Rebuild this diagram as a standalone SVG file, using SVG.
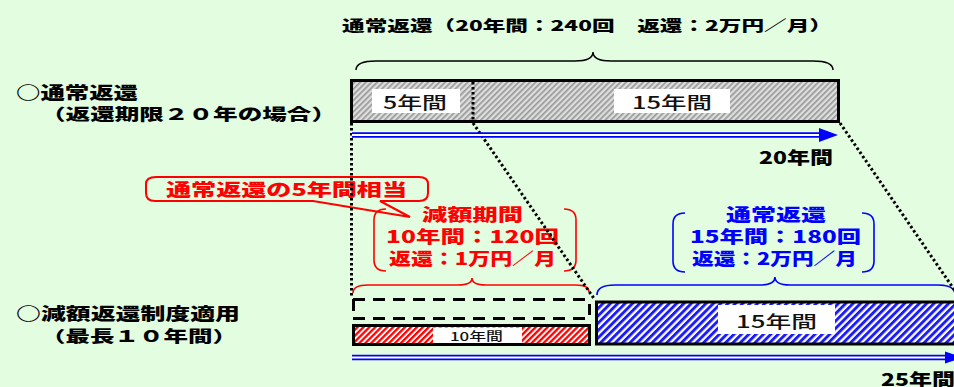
<svg xmlns="http://www.w3.org/2000/svg" width="954" height="387" viewBox="0 0 954 387">
<defs>
<style>
text{font-family:"Noto Sans CJK JP","Noto Sans",sans-serif;}
.b{font-weight:900;}
.k{fill:#000;}
.r{fill:#ff0000;}
.bl{fill:#0000ff;}
.reg{font-weight:500;fill:#111;}
.dot{stroke:#000;stroke-width:3;stroke-dasharray:2.5 2.5;fill:none;}
.dash{stroke:#000;stroke-width:3;stroke-dasharray:12 8;fill:none;}
.bar{stroke:#000;stroke-width:3;}
.lbl{fill:#fff;}
</style>
<pattern id="hg" patternUnits="userSpaceOnUse" width="4" height="4" patternTransform="rotate(45)">
<rect width="4" height="4" fill="#dedede"/><rect width="1.7" height="4" fill="#999"/>
</pattern>
<pattern id="hr" patternUnits="userSpaceOnUse" width="4.2" height="4.2" patternTransform="rotate(45)">
<rect width="4.2" height="4.2" fill="#fff"/><rect width="2.3" height="4.2" fill="#ff0000"/>
</pattern>
<pattern id="hb" patternUnits="userSpaceOnUse" width="5.2" height="5.2" patternTransform="rotate(45)">
<rect width="5.2" height="5.2" fill="#fff"/><rect width="2.9" height="5.2" fill="#1a1aff"/>
</pattern>
</defs>
<rect width="954" height="387" fill="#e3fde1"/>

<g id="title">
<text class="b k" x="342" y="31" font-size="14.5" textLength="490" lengthAdjust="spacingAndGlyphs">通常返還（20年間：240回　返還：2万円／月）</text>
<path d="M356,70 C356,64 362,61 376,61 L575,61 C588,61 593,58 593,52 C593,58 598,61 611,61 L813,61 C827,61 833,64 833,70" fill="none" stroke="#000" stroke-width="1.5"/>
</g>

<g id="label-normal">
<text class="b k" x="16" y="99" font-size="17" textLength="122" lengthAdjust="spacingAndGlyphs">○通常返還</text>
<text class="b k" x="41" y="120" font-size="16" textLength="295" lengthAdjust="spacingAndGlyphs">（返還期限２０年の場合）</text>
</g>

<g id="label-reduced">
<text class="b k" x="16" y="320" font-size="16.5" textLength="224" lengthAdjust="spacingAndGlyphs">○減額返還制度適用</text>
<text class="b k" x="41" y="342" font-size="15.5" textLength="196" lengthAdjust="spacingAndGlyphs">（最長１０年間）</text>
</g>

<g id="bar-normal">
<rect class="bar" x="351.5" y="80.5" width="487" height="41" fill="url(#hg)"/>
<rect class="lbl" x="372" y="89" width="88" height="24"/>
<text class="reg" x="383" y="109" font-size="17" textLength="64" lengthAdjust="spacingAndGlyphs">5年間</text>
<rect class="lbl" x="614" y="89" width="116" height="24"/>
<text class="reg" x="632" y="109" font-size="17" textLength="80" lengthAdjust="spacingAndGlyphs">15年間</text>
<line class="dot" x1="473" y1="82" x2="473" y2="121"/>
</g>

<g id="label-20y">
<text class="b k" x="759" y="164" font-size="17" textLength="74" lengthAdjust="spacingAndGlyphs">20年間</text>
</g>

<g id="callout">
<path d="M156,177 L419,177 Q428,177 428,184 L428,193 Q428,201 419,201 L380,201 L410,217 L313,201 L155,201 Q146,201 146,193 L146,184 Q146,177 156,177 Z" fill="#e3fde1" stroke="#ff0000" stroke-width="2"/>
<text class="b r" x="166" y="196" font-size="17" textLength="241" lengthAdjust="spacingAndGlyphs">通常返還の5年間相当</text>
</g>

<g id="reduced-info">
<path d="M386,209 Q374,209 374,220 L374,260 Q374,271 386,271" fill="none" stroke="#ff0000" stroke-width="1.6"/>
<path d="M564,209 Q576,209 576,220 L576,260 Q576,271 564,271" fill="none" stroke="#ff0000" stroke-width="1.6"/>
<text class="b r" x="422" y="221" font-size="16.5" textLength="101" lengthAdjust="spacingAndGlyphs">減額期間</text>
<text class="b r" x="386" y="243" font-size="16.5" textLength="173" lengthAdjust="spacingAndGlyphs">10年間：120回</text>
<text class="b r" x="389" y="265" font-size="16.5" textLength="167" lengthAdjust="spacingAndGlyphs">返還：1万円／月</text>
<path d="M353,293 C353,288 358,285 368,285 L458,285 C468,285 472,283 472,278 C472,283 476,285 486,285 L576,285 C585,285 589,287 589,292" fill="none" stroke="#ff0000" stroke-width="1.6"/>
</g>

<g id="normal-info">
<path d="M685,213 Q673,213 673,224 L673,261 Q673,272 685,272" fill="none" stroke="#0000ff" stroke-width="1.6"/>
<path d="M862,213 Q874,213 874,224 L874,261 Q874,272 862,272" fill="none" stroke="#0000ff" stroke-width="1.6"/>
<text class="b bl" x="726" y="221" font-size="16.5" textLength="100" lengthAdjust="spacingAndGlyphs">通常返還</text>
<text class="b bl" x="690" y="243" font-size="16.5" textLength="171" lengthAdjust="spacingAndGlyphs">15年間：180回</text>
<text class="b bl" x="692" y="265" font-size="16.5" textLength="165" lengthAdjust="spacingAndGlyphs">返還：2万円／月</text>
<path d="M597,295 C597,289 603,285 615,285 L760,285 C771,285 775,282 775,277 C775,282 779,285 790,285 L938,285 C950,285 955,289 955,295" fill="none" stroke="#0000ff" stroke-width="1.6"/>
</g>

<g id="bar-reduced-slot">
<line class="dash" x1="353" y1="299.5" x2="591" y2="299.5"/>
<line class="dash" x1="353" y1="318.5" x2="591" y2="318.5"/>
<line x1="353.5" y1="299" x2="353.5" y2="311" stroke="#000" stroke-width="3"/>
<line x1="589.5" y1="304" x2="589.5" y2="315" stroke="#000" stroke-width="3"/>
</g>

<g id="bar-reduced">
<rect class="bar" x="353.5" y="325.5" width="236" height="19" fill="url(#hr)"/>
<rect class="lbl" x="433" y="327.5" width="89" height="15.5"/>
<text class="reg" x="450" y="341" font-size="12" textLength="53" lengthAdjust="spacingAndGlyphs">10年間</text>
</g>

<g id="bar-normal-after">
<rect class="bar" x="596.5" y="302" width="370" height="42" fill="url(#hb)"/>
<rect class="lbl" x="718" y="305" width="117" height="29"/>
<text class="reg" x="736" y="328" font-size="17" textLength="81" lengthAdjust="spacingAndGlyphs">15年間</text>
</g>

<g id="label-25y">
<text class="b k" x="881" y="386" font-size="17" textLength="74" lengthAdjust="spacingAndGlyphs">25年間</text>
</g>

<g id="connectors">
<line class="dot" x1="351.5" y1="123" x2="351.5" y2="298"/>
<line class="dot" x1="473" y1="123" x2="595" y2="300"/>
<line class="dot" x1="840" y1="123" x2="962" y2="301"/>
<line x1="352" y1="135" x2="821" y2="135" stroke="#0000ff" stroke-width="5.4"/>
<line x1="352" y1="135" x2="821" y2="135" stroke="#fff" stroke-width="1.8"/>
<polygon points="819,128 838,135 819,142" fill="#0000ff"/>
<line x1="352" y1="357.5" x2="947" y2="357.5" stroke="#0000ff" stroke-width="5.4"/>
<line x1="352" y1="357.5" x2="947" y2="357.5" stroke="#fff" stroke-width="1.8"/>
<polygon points="945,351.5 963,357.5 945,363.5" fill="#0000ff"/>
</g>
</svg>
